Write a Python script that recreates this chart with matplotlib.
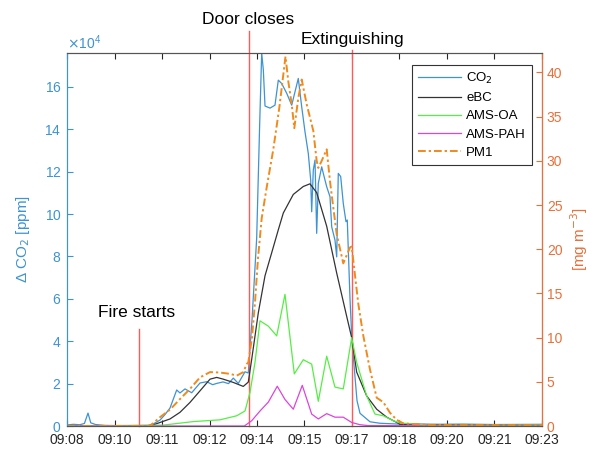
import numpy as np
import matplotlib
matplotlib.use("Agg")
import matplotlib.pyplot as plt
from matplotlib.ticker import ScalarFormatter

plt.rcParams['font.family'] = ['Liberation Sans', 'DejaVu Sans']

# time in minutes after 09:00
co2_t = [8.0, 8.2, 8.4, 8.55, 8.663, 8.75, 8.9, 9.2, 9.5, 10.0, 10.558, 10.75, 10.937,
         11.1, 11.253, 11.464, 11.568, 11.726, 11.938, 12.2, 12.411, 12.6, 12.727, 12.926,
         13.1, 13.252, 13.409, 13.621, 13.725, 13.842, 13.99, 14.08, 14.148, 14.2, 14.253,
         14.411, 14.568, 14.673, 14.78, 14.938, 15.096, 15.2, 15.304, 15.412, 15.516, 15.62,
         15.696, 15.727, 15.778, 15.832, 15.885, 15.936, 16.043, 16.094, 16.201, 16.305,
         16.359, 16.463, 16.517, 16.567, 16.643, 16.725, 16.81, 16.851, 16.937, 17.0,
         17.158, 17.253, 17.568, 17.884, 18.5, 19.5, 20.5, 21.5, 23.0]
co2 = [500, 800, 600, 1200, 6100, 1500, 700, 300, 200, 200, 300, 1200, 2800,
       5500, 8500, 17000, 15600, 17500, 15700, 20300, 20900, 19500, 20100, 20800,
       20000, 22600, 20100, 25600, 25000, 50000, 88700, 140000, 176000, 168000, 151000,
       150000, 151400, 163200, 161600, 157000, 151400, 157700, 164000, 150600, 138800, 128600,
       116000, 101100, 120800, 125500, 90900, 114500, 122300, 119200, 112900, 108200,
       94000, 87700, 79800, 119200, 117700, 105000, 96400, 97200, 60000, 40000,
       12000, 6000, 2000, 1300, 900, 800, 900, 700, 800]

ebc_t = [8.0, 10.62, 11.253, 11.568, 11.884, 12.2, 12.516, 12.727, 12.936, 13.252, 13.567,
         13.725, 13.833, 14.041, 14.253, 14.464, 14.673, 14.831, 15.146, 15.462, 15.673,
         15.885, 16.201, 16.517, 16.833, 16.99, 17.148, 17.464, 17.78, 18.096, 18.52, 23.0]
ebc = [0.0, 0.0, 0.8, 1.55, 2.67, 3.98, 5.3, 5.5, 5.3, 4.93, 4.48,
       4.97, 7.56, 12.8, 17.0, 19.6, 22.2, 24.1, 26.2, 27.1, 27.4,
       26.4, 22.6, 17.3, 12.4, 10.0, 6.1, 3.4, 1.9, 1.0, 0.2, 0.05]

oa_t = [8.0, 11.03, 11.988, 12.831, 13.359, 13.621, 13.779, 13.937, 14.095, 14.357, 14.622,
        14.884, 15.178, 15.462, 15.727, 15.936, 16.201, 16.463, 16.725, 16.99, 17.148,
        17.464, 17.726, 17.988, 18.304, 18.516, 19.5, 23.0]
oa = [0.0, 0.1, 0.5, 0.7, 1.16, 1.7, 3.8, 7.2, 11.9, 11.3, 10.2,
      14.9, 5.9, 7.5, 7.0, 2.8, 7.9, 4.4, 4.2, 10.0, 7.2,
      3.4, 1.35, 1.16, 0.6, 0.34, 0.1, 0.1]

pah_t = [8.0, 13.6, 13.833, 14.095, 14.357, 14.64, 14.884, 15.146, 15.43, 15.727, 15.936,
         16.201, 16.463, 16.725, 16.99, 17.25, 17.5, 23.0]
pah = [0.0, 0.0, 0.6, 1.7, 2.7, 4.5, 3.0, 1.9, 4.6, 1.35, 0.8,
       1.4, 1.0, 1.0, 0.4, 0.15, 0.05, 0.0]

pm_t = [8.0, 10.62, 10.937, 11.253, 11.568, 11.884, 12.2, 12.516, 12.831, 13.147, 13.359,
        13.567, 13.675, 13.725, 13.842, 13.937, 14.032, 14.148, 14.306, 14.515, 14.704,
        14.9, 14.988, 15.096, 15.178, 15.304, 15.412, 15.569, 15.778, 15.885, 15.936,
        16.043, 16.201, 16.305, 16.41, 16.517, 16.725, 16.937, 16.99, 17.2, 17.358,
        17.568, 17.78, 17.988, 18.2, 18.41, 18.62, 19.5, 23.0]
pm1 = [0.0, 0.0, 1.0, 1.85, 3.05, 4.2, 5.5, 6.1, 6.05, 5.9, 5.7,
       6.1, 7.0, 7.2, 10.0, 14.0, 19.0, 23.5, 27.0, 31.3, 36.0,
       41.8, 39.0, 36.4, 33.7, 37.1, 39.2, 36.4, 33.4, 30.0, 29.2,
       30.0, 31.3, 27.7, 24.7, 21.7, 18.4, 20.2, 20.3, 13.8, 10.2,
       6.4, 3.2, 2.7, 1.5, 0.7, 0.3, 0.1, 0.1]

tick_t = [8.0, 9.5, 11.0, 12.5, 14.0, 15.5, 17.0, 18.5, 20.0, 21.5, 23.0]
tick_lbl = ['09:08', '09:10', '09:11', '09:12', '09:14', '09:15', '09:17',
            '09:18', '09:20', '09:21', '09:23']

events_t = [10.28, 13.74, 17.01]
events_lbl = ['Fire starts', 'Door closes', 'Extinguishing']

c_blue = '#3d93d3'
c_orange = '#e8703a'
c_red = '#ff5a5a'

fig = plt.figure(figsize=(6.01, 4.5), dpi=100)
ax = fig.add_axes([0.1115, 0.0533, 0.7903, 0.8289])
ax2 = ax.twinx()

ax.plot(co2_t, co2, color=c_blue, lw=0.9, label='CO$_2$')
l2, = ax2.plot(ebc_t, ebc, color='#333333', lw=0.9, label='eBC')
l3, = ax2.plot(oa_t, oa, color='#55ee44', lw=0.9, label='AMS-OA')
l4, = ax2.plot(pah_t, pah, color='#dd44dd', lw=0.9, label='AMS-PAH')
l5, = ax2.plot(pm_t, pm1, color='#f08a1c', lw=1.4, ls=(0, (4, 1.5, 1.2, 1.5)), label='PM1')

ax.set_xlim(8.0, 23.0)
ax.set_ylim(0, 176000)
ax2.set_ylim(0, 42.2)

ax.set_xticks(tick_t)
ax.set_xticklabels(tick_lbl)
ax.set_yticks(np.arange(0, 170000, 20000))
fmt = ScalarFormatter(useMathText=True)
fmt.set_powerlimits((4, 4))
ax.yaxis.set_major_formatter(fmt)
ax.yaxis.get_offset_text().set_color(c_blue)
ax.yaxis.get_offset_text().set_fontsize(10)
ax2.set_yticks(np.arange(0, 41, 5))

ax.tick_params(axis='x', direction='in', top=True, labelsize=10, colors='#262626',
               length=4, pad=5)
ax.tick_params(axis='y', direction='in', colors=c_blue, labelsize=10, length=4, pad=4)
ax2.tick_params(axis='y', direction='in', colors=c_orange, labelsize=10, length=4)
ax.spines['left'].set_color(c_blue)
ax2.spines['left'].set_color(c_blue)
ax2.spines['right'].set_color(c_orange)
for s in ['top', 'bottom']:
    ax.spines[s].set_color('#555555')
    ax2.spines[s].set_color('#555555')

ax.set_ylabel('Δ CO$_2$ [ppm]', color=c_blue, fontsize=11, labelpad=9)
ax2.set_ylabel('[mg m$^{-3}$]', color=c_orange, fontsize=11, labelpad=4)

# event markers
tr = ax.get_xaxis_transform()
ax.plot([events_t[0]] * 2, [0, 0.26], color=c_red, lw=1.0, transform=tr, clip_on=False, zorder=5)
ax.plot([events_t[1]] * 2, [0, 1.059], color=c_red, lw=1.0, transform=tr, clip_on=False, zorder=5)
ax.plot([events_t[2]] * 2, [0, 1.008], color=c_red, lw=1.0, transform=tr, clip_on=False, zorder=5)
ax.text(10.21, 0.303, events_lbl[0], transform=tr, ha='center', va='center', fontsize=12.5)
ax.text(13.72, 1.091, events_lbl[1], transform=tr, ha='center', va='center', fontsize=12.5)
ax.text(17.0, 1.0375, events_lbl[2], transform=tr, ha='center', va='center', fontsize=12.5)

h1 = ax.get_lines()[0]
leg = ax2.legend([h1, l2, l3, l4, l5], ['CO$_2$', 'eBC', 'AMS-OA', 'AMS-PAH', 'PM1'],
                 loc='upper right', bbox_to_anchor=(0.979, 0.968), borderaxespad=0,
                 fontsize=9.5, handlelength=3.3, handletextpad=0.4, fancybox=False,
                 edgecolor='#333333', borderpad=0.45, labelspacing=0.45, framealpha=1)
leg.get_frame().set_linewidth(0.8)

fig.savefig('out.png', dpi=100)
